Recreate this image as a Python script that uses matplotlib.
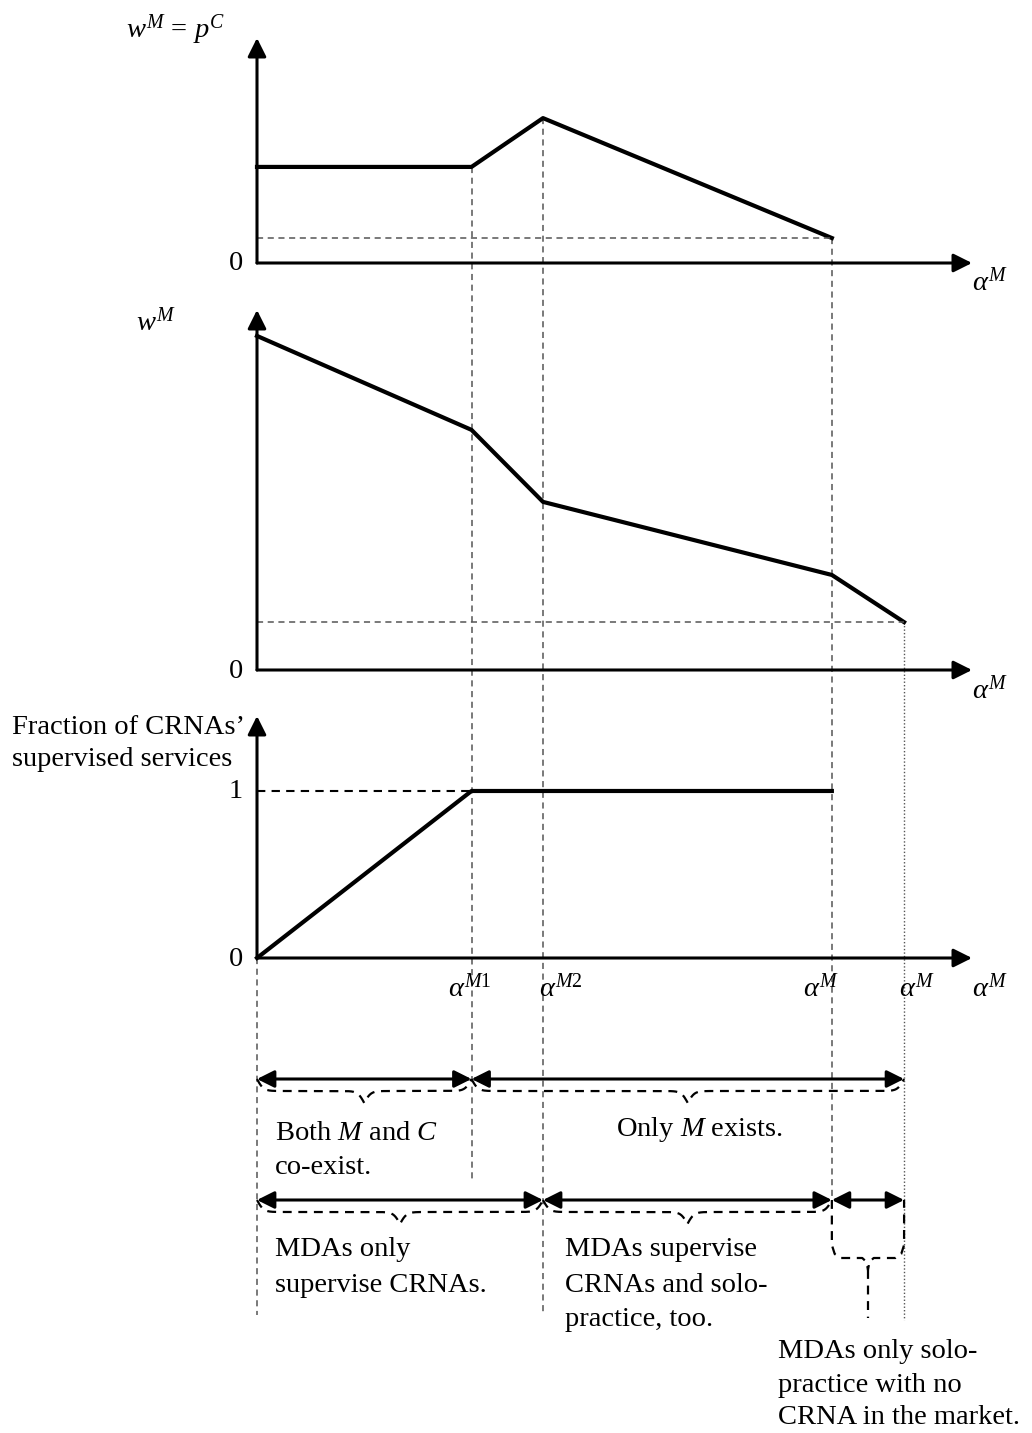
import numpy as np
import matplotlib
matplotlib.use('Agg')
import matplotlib.pyplot as plt

plt.rcParams['font.family'] = 'Liberation Serif'
plt.rcParams['mathtext.fontset'] = 'custom'
plt.rcParams['mathtext.rm'] = 'Liberation Serif'
plt.rcParams['mathtext.it'] = 'Liberation Serif:italic'

# thresholds on the alpha^M axis (share of the axis length)
a1 = 0.30    # alpha^M1
a2 = 0.40    # alpha^M2
aM = 0.804   # alpha^M
aMb = 0.905  # alpha^M (bar)

# top panel: w^M = p^C
top_x = [0, a1, a2, aM]
top_y = [0.427, 0.427, 0.644, 0.111]
top_floor = 0.111

# middle panel: w^M
mid_x = [0, a1, a2, aM, aMb]
mid_y = [0.928, 0.667, 0.467, 0.264, 0.133]
mid_floor = 0.133

# bottom panel: fraction of CRNAs' supervised services
bot_x = [0, a1, aM]
bot_y = [0, 1, 1]

tick_labels = [r'$\alpha^{\mathit{M1}}$', r'$\alpha^{\mathit{M2}}$', r'$\alpha^{M}$', r'$\alpha^{M}$']
tick_pos = [a1, a2, aM, aMb]
tick_shift = [-0.003, 0.025, -0.015, 0.018]

W, H = 1032, 1433
FS = 20.5
fig = plt.figure(figsize=(W / 100, H / 100), dpi=100)

def box(top, bottom):
    return [257 / W, 1 - bottom / H, 715 / W, (bottom - top) / H]

ax0 = fig.add_axes([0, 0, 1, 1])
ax0.set_xlim(-257 / 715, (W - 257) / 715)
ax0.set_ylim(H, 0)
ax0.axis('off')

ax1 = fig.add_axes(box(38, 263))
ax2 = fig.add_axes(box(310, 670))
ax3 = fig.add_axes(box(716, 958))
for ax, top in [(ax1, 1.0), (ax2, 1.0), (ax3, 1.449)]:
    ax.set_xlim(0, 1)
    ax.set_ylim(0, top)
    ax.axis('off')
    arr = dict(arrowstyle='-|>', mutation_scale=28, lw=2.2, color='k', shrinkA=0, shrinkB=0)
    ax.annotate('', xy=(1, 0), xytext=(0, 0), arrowprops=arr, annotation_clip=False)
    ax.annotate('', xy=(0, top), xytext=(0, 0), arrowprops=arr, annotation_clip=False)

gray = dict(color='#555555', lw=1.1, ls=(0, (4, 3)))

ax1.plot(top_x, top_y, color='k', lw=3, clip_on=False)
ax1.plot([0, aM], [top_floor, top_floor], **gray)
ax2.plot(mid_x, mid_y, color='k', lw=3, clip_on=False)
ax2.plot([0, aMb], [mid_floor, mid_floor], **gray)
ax3.plot(bot_x, bot_y, color='k', lw=3, clip_on=False)
ax3.plot([0, a1], [1, 1], color='k', lw=1.5, ls=(0, (4, 3)))


def row(ax, x, y):
    d = ax.transData.transform((x, y))
    return ax0.transData.inverted().transform(d)[1]


# vertical guide lines through all panels
ax0.plot([a1, a1], [row(ax1, a1, top_y[1]), 1180], **gray)
ax0.plot([a2, a2], [row(ax1, a2, top_y[2]), 1315], **gray)
ax0.plot([aM, aM], [row(ax1, aM, top_y[3]), 1200], **gray)
ax0.plot([aMb, aMb], [row(ax2, aMb, mid_y[4]), 1320], color='#555555', lw=1.0, ls=(0, (1, 1.5)))
ax0.plot([0, 0], [row(ax3, 0, 0), 1315], **gray)

# double arrows
darr = dict(arrowstyle='<|-|>', mutation_scale=26, lw=2.2, color='k', shrinkA=0, shrinkB=0)
for (xa, xb, yy) in [(0, a1, 1079), (a1, aMb, 1079), (0, a2, 1200), (a2, aM, 1200), (aM, aMb, 1200)]:
    ax0.annotate('', xy=(xb, yy), xytext=(xa, yy), arrowprops=darr)


def brace(x0, x1, y, depth=12, beta=220):
    x = np.linspace(x0, x1, 401)
    xh = x[:201]
    yh = 1 / (1 + np.exp(-beta * (xh - xh[0]))) + 1 / (1 + np.exp(-beta * (xh - xh[-1])))
    yy = np.concatenate([yh, yh[-2::-1]])
    ax0.plot(x, y + 2 * depth * (yy - 0.5), color='k', lw=1.6, ls=(0, (4, 3)))


brace(0, a1, 1079)
brace(a1, aMb, 1079)
brace(0, a2, 1200)
brace(a2, aM, 1200)

# last narrow brace with vertical sides and long tail
m = (aM + aMb) / 2
bx = [aM, aM, aM + 0.004, aM + 0.012, m - 0.008, m - 0.002, m]
by = [1200, 1245, 1254, 1258, 1258, 1262, 1270]
bx = bx + [2 * m - v for v in bx[::-1]]
by = by + by[::-1]
ax0.plot(bx, by, color='k', lw=1.6, ls=(0, (4, 3)))
ax0.plot([m, m], [1270, 1318], color='k', lw=1.6, ls=(0, (4, 3)))


def ftxt(px, py, s, **kw):
    kw.setdefault('fontsize', FS)
    kw.setdefault('va', 'center')
    fig.text(px / W, 1 - py / H, s, **kw)


# axis labels
ftxt(225, 30, r'$w^M\,=\,p^C$', ha='right')
ftxt(176, 322, r'$w^M$', ha='right')
ftxt(12, 728, "Fraction of CRNAs\u2019")
ftxt(12, 760, 'supervised services')
for yy in [263, 672, 960]:
    ftxt(236, yy, '0', ha='center')
ftxt(236, 792, '1', ha='center')
for yy in [282, 690, 988]:
    ftxt(990, yy, r'$\alpha^M$', ha='center')

for p, s, lab in zip(tick_pos, tick_shift, tick_labels):
    ax0.text(p + s, 988, lab, fontsize=FS, ha='center', va='center')

# region descriptions
ftxt(275, 1133, r'Both $M$ and $C$')
ftxt(275, 1168, 'co-exist.')
ftxt(700, 1130, r'Only $M$ exists.', ha='center')
ftxt(275, 1250, 'MDAs only')
ftxt(275, 1285, 'supervise CRNAs.')
ftxt(565, 1250, 'MDAs supervise')
ftxt(565, 1285, 'CRNAs and solo-')
ftxt(565, 1320, 'practice, too.')
ftxt(778, 1352, 'MDAs only solo-')
ftxt(778, 1385, 'practice with no')
ftxt(778, 1418, 'CRNA in the market.')

fig.savefig('out.png', dpi=100)
